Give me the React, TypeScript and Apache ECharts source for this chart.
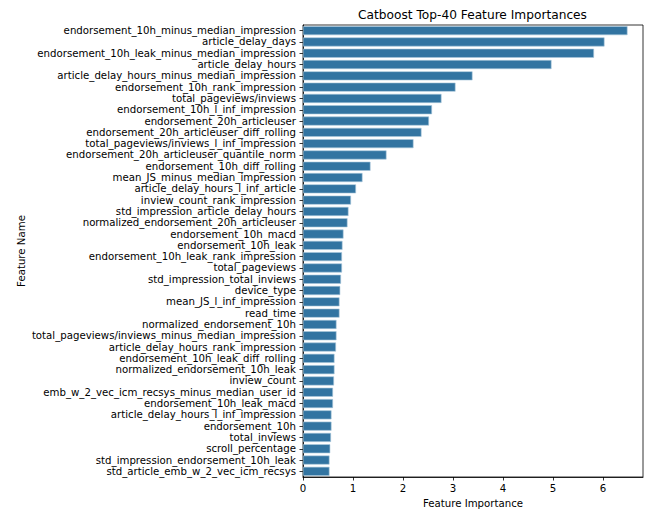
import React, { useEffect, useRef } from "react";
import * as echarts from "echarts";

const features = [
  "endorsement_10h_minus_median_impression",
  "article_delay_days",
  "endorsement_10h_leak_minus_median_impression",
  "article_delay_hours",
  "article_delay_hours_minus_median_impression",
  "endorsement_10h_rank_impression",
  "total_pageviews/inviews",
  "endorsement_10h_l_inf_impression",
  "endorsement_20h_articleuser",
  "endorsement_20h_articleuser_diff_rolling",
  "total_pageviews/inviews_l_inf_impression",
  "endorsement_20h_articleuser_quantile_norm",
  "endorsement_10h_diff_rolling",
  "mean_JS_minus_median_impression",
  "article_delay_hours_l_inf_article",
  "inview_count_rank_impression",
  "std_impression_article_delay_hours",
  "normalized_endorsement_20h_articleuser",
  "endorsement_10h_macd",
  "endorsement_10h_leak",
  "endorsement_10h_leak_rank_impression",
  "total_pageviews",
  "std_impression_total_inviews",
  "device_type",
  "mean_JS_l_inf_impression",
  "read_time",
  "normalized_endorsement_10h",
  "total_pageviews/inviews_minus_median_impression",
  "article_delay_hours_rank_impression",
  "endorsement_10h_leak_diff_rolling",
  "normalized_endorsement_10h_leak",
  "inview_count",
  "emb_w_2_vec_icm_recsys_minus_median_user_id",
  "endorsement_10h_leak_macd",
  "article_delay_hours_l_inf_impression",
  "endorsement_10h",
  "total_inviews",
  "scroll_percentage",
  "std_impression_endorsement_10h_leak",
  "std_article_emb_w_2_vec_icm_recsys",
];

const importances = [
  6.49, 6.03, 5.82, 4.97, 3.39, 3.05, 2.77, 2.58, 2.52, 2.37,
  2.21, 1.67, 1.35, 1.19, 1.06, 0.96, 0.91, 0.89, 0.81, 0.79,
  0.78, 0.78, 0.76, 0.745, 0.73, 0.73, 0.67, 0.67, 0.66, 0.63,
  0.63, 0.62, 0.6, 0.6, 0.57, 0.57, 0.56, 0.545, 0.53, 0.53,
];

const xTicks = [0, 1, 2, 3, 4, 5, 6];

const FONT = "DejaVu Sans";

export default function App() {
  const ref = useRef<HTMLDivElement>(null);
  useEffect(() => {
    if (!ref.current) return;
    const chart = echarts.init(ref.current, undefined, { renderer: "svg" });
    chart.setOption({
      animation: false,
      backgroundColor: "#fff",
      textStyle: { fontFamily: FONT },
      graphic: [
        {
          type: "text",
          x: 472.5,
          y: 15,
          style: {
            text: "Catboost Top-40 Feature Importances",
            fontFamily: FONT,
            fontSize: 12.2,
            fill: "#000",
            align: "center",
            verticalAlign: "middle",
          },
        },
        {
          type: "text",
          x: 473,
          y: 503,
          style: {
            text: "Feature Importance",
            fontFamily: FONT,
            fontSize: 10.2,
            fill: "#000",
            align: "center",
            verticalAlign: "middle",
          },
        },
        {
          type: "text",
          x: 21,
          y: 251,
          rotation: Math.PI / 2,
          style: {
            text: "Feature Name",
            fontFamily: FONT,
            fontSize: 10.2,
            fill: "#000",
            align: "center",
            verticalAlign: "middle",
          },
        },
      ],
      grid: {
        left: 303,
        top: 25,
        right: 3,
        bottom: 33,
        show: true,
        borderColor: "#000",
        borderWidth: 0.8,
        backgroundColor: "transparent",
      },
      xAxis: {
        type: "value",
        min: 0,
        max: 6.8,
        interval: 1,
        axisLine: { show: true, lineStyle: { color: "#000", width: 0.8 } },
        axisTick: {
          show: true,
          length: 3.5,
          lineStyle: { color: "#000", width: 0.8 },
          customValues: xTicks,
        },
        axisLabel: {
          fontFamily: FONT,
          fontSize: 10.2,
          color: "#000",
          margin: 6,
          customValues: xTicks,
          formatter: (v: number) => String(v),
        },
        splitLine: { show: false },
      },
      yAxis: {
        type: "category",
        data: features,
        inverse: true,
        axisLine: { show: true, lineStyle: { color: "#000", width: 0.8 } },
        axisTick: {
          show: true,
          alignWithLabel: true,
          length: 3.5,
          lineStyle: { color: "#000", width: 0.8 },
        },
        axisLabel: {
          fontFamily: FONT,
          fontSize: 10.2,
          color: "#000",
          margin: 7,
          interval: 0,
        },
        splitLine: { show: false },
      },
      series: [
        {
          type: "bar",
          data: importances,
          barWidth: "80%",
          itemStyle: { color: "#3274a1", borderColor: "#a9c7dc", borderWidth: 0.6 },
        },
      ],
    });
    return () => chart.dispose();
  }, []);
  return (
    <div
      ref={ref}
      style={{ position: "fixed", left: 0, top: 0, width: 646, height: 510 }}
    />
  );
}
